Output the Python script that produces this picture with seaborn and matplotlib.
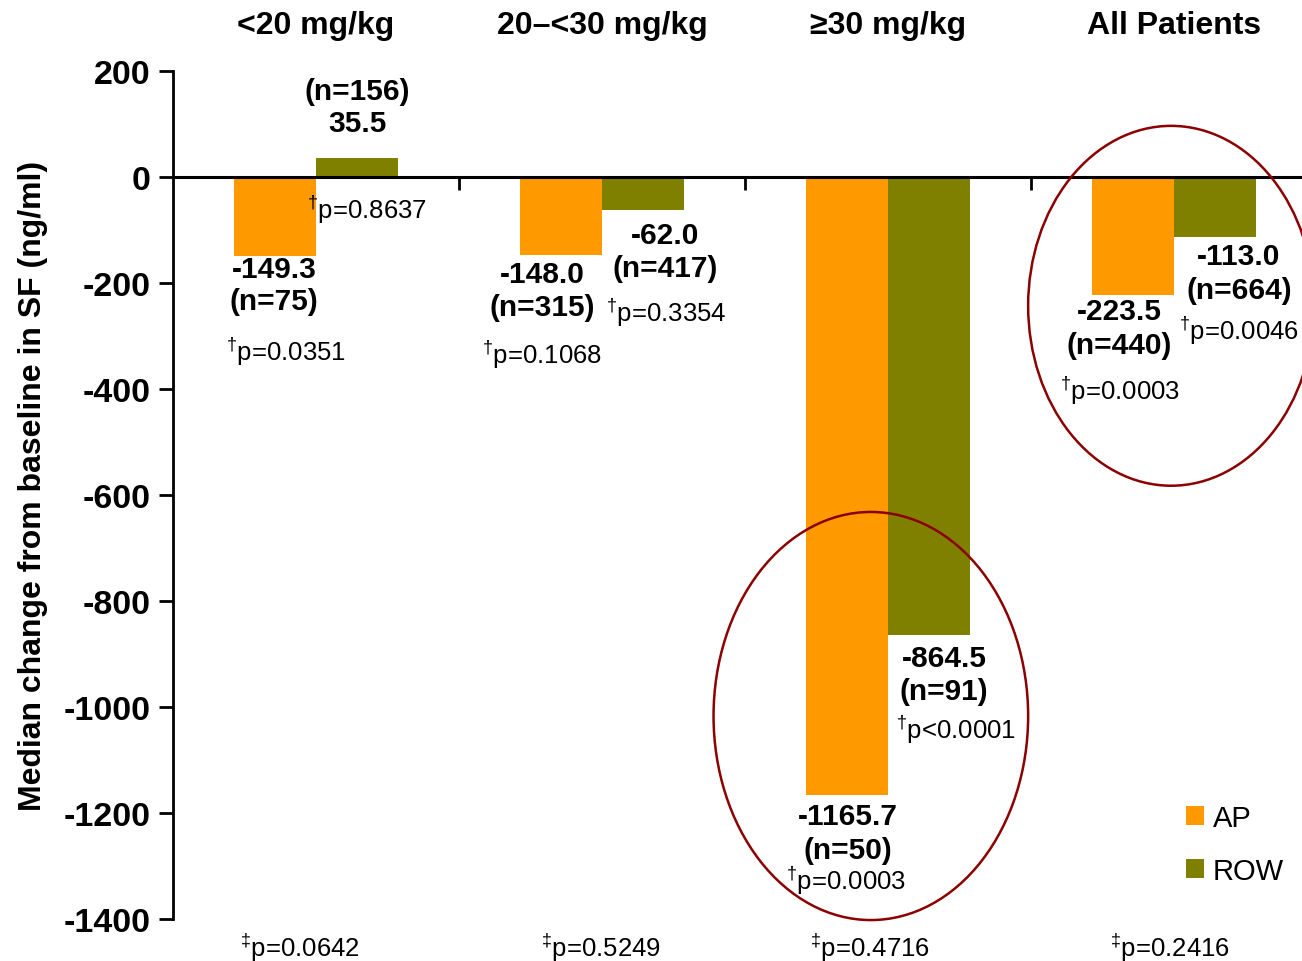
import numpy as np
import pandas as pd
import matplotlib
matplotlib.use("Agg")
import matplotlib.pyplot as plt
import matplotlib.transforms as mtransforms
from matplotlib.patches import Ellipse, Patch
import seaborn as sns

# ---- data ----
groups = ["<20 mg/kg", "20\u2013<30 mg/kg", "\u226530 mg/kg", "All Patients"]
regions = ["AP", "ROW"]
ap_median = [-149.3, -148.0, -1165.7, -223.5]
row_median = [35.5, -62.0, -864.5, -113.0]
ap_n = [75, 315, 50, 440]
row_n = [156, 417, 91, 664]
ap_p = ["p=0.0351", "p=0.1068", "p=0.0003", "p=0.0003"]
row_p = ["p=0.8637", "p=0.3354", "p<0.0001", "p=0.0046"]
between_p = ["p=0.0642", "p=0.5249", "p=0.4716", "p=0.2416"]
yticks = [200, 0, -200, -400, -600, -800, -1000, -1200, -1400]

colors = {"AP": "#FF9900", "ROW": "#808000"}
ring_color = "#8B0000"

df = pd.DataFrame({
    "group": groups * 2,
    "region": ["AP"] * 4 + ["ROW"] * 4,
    "median": ap_median + row_median,
})

sns.set_theme(style="white")
plt.rcParams["font.family"] = ["Liberation Sans", "DejaVu Sans"]
plt.rcParams["text.color"] = "black"
plt.rcParams["axes.labelcolor"] = "black"
plt.rcParams["xtick.color"] = "black"
plt.rcParams["ytick.color"] = "black"
plt.rcParams["mathtext.fontset"] = "custom"
plt.rcParams["mathtext.rm"] = "Liberation Sans"
plt.rcParams["mathtext.it"] = "Liberation Sans:italic"
plt.rcParams["mathtext.bf"] = "Liberation Sans:bold"

fig = plt.figure(figsize=(13.02, 9.62), dpi=100)
W, H = 1302, 962
ax = fig.add_axes([173 / W, 42 / H, 1144 / W, 848 / H])

sns.barplot(data=df, x="group", y="median", hue="region", order=groups,
            hue_order=regions, palette=colors, width=0.574, saturation=1,
            errorbar=None, ax=ax, legend=False, linewidth=0, edgecolor="none")

ax.set_xlim(-0.5, 3.5)
ax.set_ylim(-1400, 200)
ax.set_yticks(yticks)
ax.set_yticklabels([str(t) for t in yticks], fontsize=24.5, fontweight="bold")
ax.tick_params(axis="y", direction="out", length=10, width=2, pad=6, left=True)

# x axis drawn as the zero line, with separators between groups
ax.spines["top"].set_visible(False)
ax.spines["right"].set_visible(False)
ax.spines["bottom"].set_position(("data", 0))
ax.spines["bottom"].set_linewidth(2.2)
ax.spines["bottom"].set_color("black")
ax.spines["left"].set_linewidth(2)
ax.spines["left"].set_color("black")
ax.set_xticks([0.5, 1.5, 2.5])
ax.set_xticklabels([])
ax.tick_params(axis="x", direction="out", length=9, width=2, bottom=True)
ax.set_xlabel("")
ax.set_ylabel("Median change from baseline in SF (ng/ml)", fontsize=23,
              fontweight="bold")
ax.yaxis.set_label_coords(-0.109, 0.512)

# group headers above the plot
header_tf = mtransforms.blended_transform_factory(ax.transData, fig.transFigure)
for i, g in enumerate(groups):
    ax.text(i, 1 - 26 / H, g, transform=header_tf, ha="center", va="center",
            fontsize=23, fontweight="bold")

half = 0.287 / 2
# label offsets (pixels) relative to each bar tip: value, n, p
ap_off = [((-1, -13), (-1, -45), (11, -95)),
          ((-19, -19), (-19, -52), (-19, -99)),
          ((1, -21), (1, -55), (-1, -85)),
          ((-14, -16), (-14, -50), (-13, -94))]
row_off = [((0, 35), (0, 67), (10, -51)),
           ((22, -25), (22, -58), (23, -102)),
           ((15, -23), (15, -56), (27, -94)),
           ((24, -19), (24, -53), (24, -93))]


def label_bar(x, val, n, p, offs):
    (vo, no, po) = offs
    ax.annotate(f"{val:.1f}", (x, val), xytext=vo, textcoords="offset pixels",
                ha="center", va="center", fontsize=21.5, fontweight="bold",
                annotation_clip=False)
    ax.annotate(f"(n={n})", (x, val), xytext=no, textcoords="offset pixels",
                ha="center", va="center", fontsize=21.5, fontweight="bold",
                annotation_clip=False)
    ax.annotate(r"$^{\dagger}$" + p, (x, val), xytext=po, textcoords="offset pixels",
                ha="center", va="center", fontsize=18.5, annotation_clip=False)


for i in range(len(groups)):
    label_bar(i - half, ap_median[i], ap_n[i], ap_p[i], ap_off[i])
    label_bar(i + half, row_median[i], row_n[i], row_p[i], row_off[i])

# between-region p-values under each group
bottom_dx = [-16, -1, -18, -4]
for i, p in enumerate(between_p):
    ax.annotate(r"$^{\ddagger}$" + p, (i, -1400), xytext=(bottom_dx[i], -28),
                textcoords="offset pixels", ha="center", va="center",
                fontsize=18.5, annotation_clip=False)

# highlight rings
ax.add_patch(Ellipse((1.94, -1017), 1.10, 770, fill=False, edgecolor=ring_color,
                     linewidth=1.8, clip_on=False, zorder=5))
ax.add_patch(Ellipse((2.99, -243), 1.0, 679, fill=False, edgecolor=ring_color,
                     linewidth=1.8, clip_on=False, zorder=5))

handles = [Patch(facecolor=colors[r], edgecolor="none", label=r) for r in regions]
ax.legend(handles=handles, loc="center left",
          bbox_to_anchor=((1174 - 173) / 1144, 0.088),
          frameon=False, fontsize=21, handlelength=0.62, handleheight=0.62,
          handletextpad=0.3, labelspacing=0.85, borderaxespad=0)

fig.savefig("out.png", dpi=100)
